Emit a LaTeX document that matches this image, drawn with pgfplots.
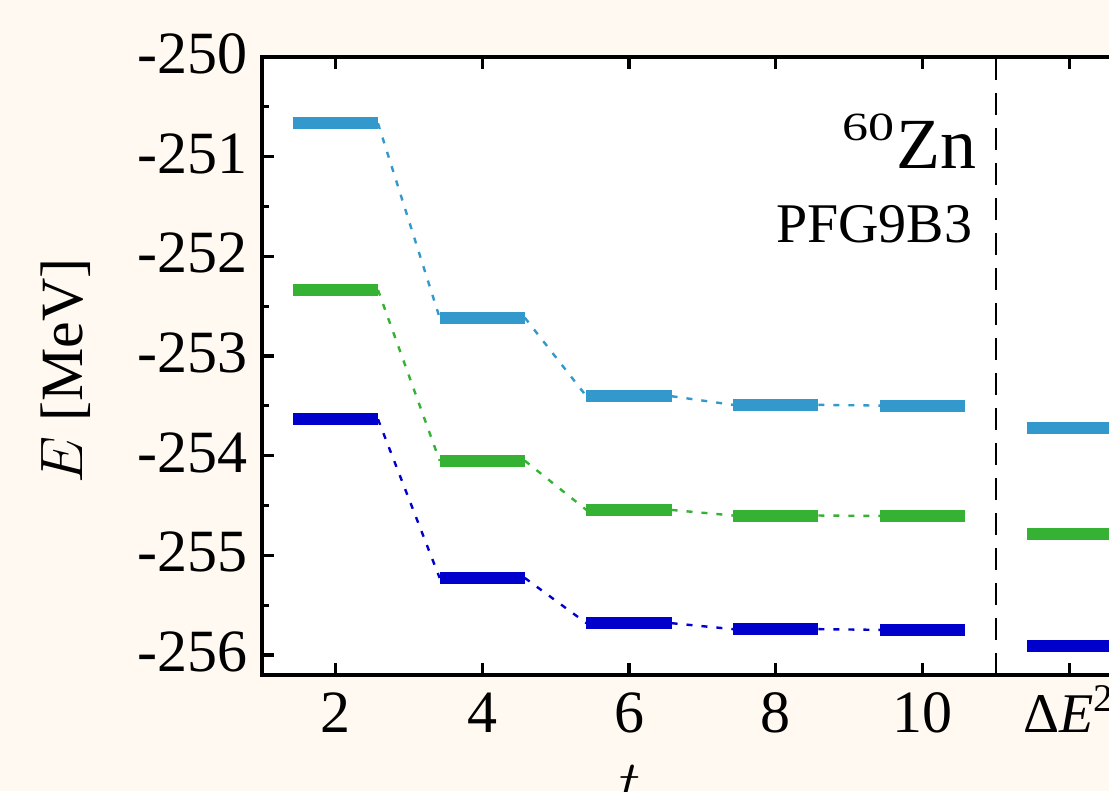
\RequirePackage{fix-cm}
\documentclass[border=0pt]{standalone}
\usepackage{fontspec}
\setmainfont{Liberation Serif}
\usepackage{graphicx}
\usepackage{pgfplots}
\pgfplotsset{compat=1.18}
\definecolor{bg}{HTML}{FFF9F1}
\definecolor{cA}{HTML}{3399CC}
\definecolor{cB}{HTML}{35B234}
\definecolor{cC}{HTML}{0000CC}
\begin{document}
\begin{tikzpicture}
\path[use as bounding box] (0pt,0pt) rectangle (277.25pt,-197.75pt);
\clip (0pt,0pt) rectangle (277.25pt,-197.75pt);
\fill[bg] (0pt,0pt) rectangle (277.25pt,-197.75pt);
\begin{axis}[
  at={(65.5pt,-168.75pt)}, anchor=south west,
  scale only axis, width=220.2pt, height=154.5pt,
  xmin=1, xmax=13, ymin=-256.2, ymax=-250,
  axis background/.style={fill=white},
  axis line style={line width=0.8pt},
  tick style={line width=0.8pt, black},
  major tick length=3pt, minor tick length=1.75pt,
  tick align=inside,
  xtick={2,4,6,8,10,12},
  xticklabels={2,4,6,8,10,{\fontsize{14}{16}\selectfont Δ\textit{E}\textsuperscript{2}}},
  ytick={-256,-255,-254,-253,-252,-251,-250},
  yticklabels={-256,-255,-254,-253,-252,-251,-250},
  minor ytick={-255.5,-254.5,-253.5,-252.5,-251.5,-250.5},
  ticklabel style={font=\fontsize{15}{18}\selectfont, inner sep=0pt},
  xticklabel style={anchor=base, yshift=-14.25pt},
  yticklabel style={anchor=east, xshift=-3.5pt, yshift=0.8pt},
  unbounded coords=jump,
]
% dashed separator
\addplot[black, line width=0.35pt, dash pattern=on 5.5pt off 3.25pt] coordinates {(11,-256.2) (11,-250)};
% connectors
\addplot[cA, line width=0.6pt, dash pattern=on 1.5pt off 2.25pt] coordinates {
 (2.58,-250.665) (3.42,-252.615) (3,nan)
 (4.58,-252.615) (5.42,-253.403) (5,nan)
 (6.58,-253.403) (7.42,-253.490) (7,nan)
 (8.58,-253.490) (9.42,-253.497)};
\addplot[cB, line width=0.6pt, dash pattern=on 1.5pt off 2.25pt] coordinates {
 (2.58,-252.337) (3.42,-254.050) (3,nan)
 (4.58,-254.050) (5.42,-254.544) (5,nan)
 (6.58,-254.544) (7.42,-254.600) (7,nan)
 (8.58,-254.600) (9.42,-254.604)};
\addplot[cC, line width=0.6pt, dash pattern=on 1.5pt off 2.25pt] coordinates {
 (2.58,-253.634) (3.42,-255.226) (3,nan)
 (4.58,-255.226) (5.42,-255.680) (5,nan)
 (6.58,-255.680) (7.42,-255.740) (7,nan)
 (8.58,-255.740) (9.42,-255.747)};
% levels
\addplot[cA, line width=3pt] coordinates {
 (1.42,-250.665) (2.58,-250.665) (3,nan)
 (3.42,-252.615) (4.58,-252.615) (5,nan)
 (5.42,-253.403) (6.58,-253.403) (7,nan)
 (7.42,-253.490) (8.58,-253.490) (9,nan)
 (9.42,-253.497) (10.58,-253.497) (11,nan)
 (11.42,-253.720) (12.58,-253.720)};
\addplot[cB, line width=3pt] coordinates {
 (1.42,-252.337) (2.58,-252.337) (3,nan)
 (3.42,-254.050) (4.58,-254.050) (5,nan)
 (5.42,-254.544) (6.58,-254.544) (7,nan)
 (7.42,-254.600) (8.58,-254.600) (9,nan)
 (9.42,-254.604) (10.58,-254.604) (11,nan)
 (11.42,-254.784) (12.58,-254.784)};
\addplot[cC, line width=3pt] coordinates {
 (1.42,-253.634) (2.58,-253.634) (3,nan)
 (3.42,-255.226) (4.58,-255.226) (5,nan)
 (5.42,-255.680) (6.58,-255.680) (7,nan)
 (7.42,-255.740) (8.58,-255.740) (9,nan)
 (9.42,-255.747) (10.58,-255.747) (11,nan)
 (11.42,-255.905) (12.58,-255.905)};
\end{axis}
\begin{scope}[x=0.25pt,y=-0.25pt]
\node[rotate=90, inner sep=0pt] at (66,371) {\fontsize{15}{18}\selectfont $E$ [MeV]};
\node[anchor=north, inner sep=0pt] at (630,765) {\fontsize{15}{18}\selectfont $t$};
\node[anchor=base east, inner sep=0pt] at (977,168) {\fontsize{18}{20}\selectfont\raisebox{6.8pt}{\scalebox{1.3}[1]{\fontsize{10}{10}\selectfont 60}}\kern0.5pt Zn};
\node[anchor=base east, inner sep=0pt] at (973,242) {\fontsize{14}{16}\selectfont PFG9B3};
\end{scope}
\end{tikzpicture}
\end{document}
